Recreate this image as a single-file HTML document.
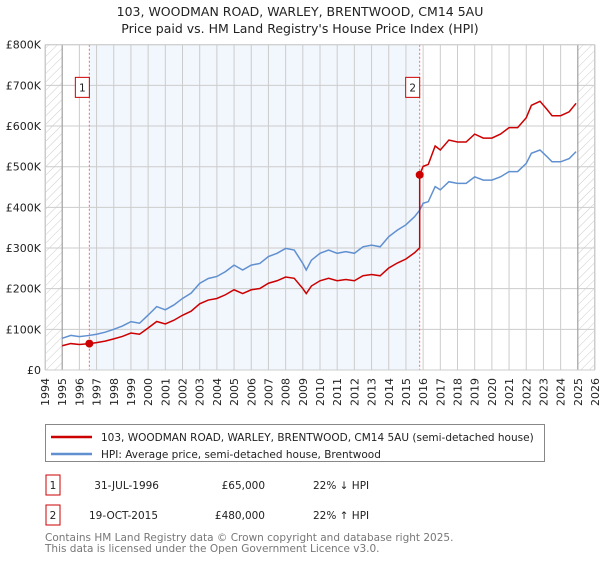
<!DOCTYPE html>
<html><head><meta charset="utf-8"><style>
body{margin:0;background:#fff;width:600px;height:560px;overflow:hidden;font-family:"Liberation Sans","DejaVu Sans",sans-serif}
svg text{font-family:"DejaVu Sans","Liberation Sans",sans-serif}
</style></head><body>
<svg id="c" width="600" height="560" xmlns="http://www.w3.org/2000/svg">
<defs><pattern id="hatch" width="6" height="6" patternUnits="userSpaceOnUse" patternTransform="rotate(45)"><line x1="0" y1="0" x2="0" y2="6" stroke="#ccc" stroke-width="1"/></pattern></defs>
<text x="300" y="16" text-anchor="middle" font-size="12.5" fill="#222">103, WOODMAN ROAD, WARLEY, BRENTWOOD, CM14 5AU</text>
<text x="300" y="33" text-anchor="middle" font-size="12.5" fill="#222">Price paid vs. HM Land Registry's House Price Index (HPI)</text>
<g id="plot"></g>
<g>
<rect x="45.5" y="424.5" width="499" height="37" fill="#fff" stroke="#888"/>
<line x1="51" y1="437" x2="92" y2="437" stroke="#cc0000" stroke-width="2.5"/>
<text x="101" y="441" font-size="10.5" fill="#222">103, WOODMAN ROAD, WARLEY, BRENTWOOD, CM14 5AU (semi-detached house)</text>
<line x1="51" y1="454" x2="92" y2="454" stroke="#6090d0" stroke-width="2.5"/>
<text x="101" y="458" font-size="10.5" fill="#222">HPI: Average price, semi-detached house, Brentwood</text>
</g>
<g font-size="10.5" fill="#222">
<rect x="46" y="475" width="14" height="20" fill="none" stroke="#cc0000"/><text x="53" y="489" text-anchor="middle">1</text>
<text x="159" y="489" text-anchor="end">31-JUL-1996</text><text x="265" y="489" text-anchor="end">£65,000</text><text x="313" y="489">22% ↓ HPI</text>
<rect x="46" y="505" width="14" height="20" fill="none" stroke="#cc0000"/><text x="53" y="519" text-anchor="middle">2</text>
<text x="158" y="519" text-anchor="end">19-OCT-2015</text><text x="265" y="519" text-anchor="end">£480,000</text><text x="313" y="519">22% ↑ HPI</text>
</g>
<text x="45" y="541" font-size="10.5" fill="#777">Contains HM Land Registry data © Crown copyright and database right 2025.</text>
<text x="45" y="552" font-size="10.5" fill="#777">This data is licensed under the Open Government Licence v3.0.</text>
</svg>
<script>
const hpiYears=[1995,1995.5,1996,1996.58,1997,1997.5,1998,1998.5,1999,1999.5,2000,2000.5,2001,2001.5,2002,2002.5,2003,2003.5,2004,2004.5,2005,2005.5,2006,2006.5,2007,2007.5,2008,2008.5,2009,2009.2,2009.5,2010,2010.5,2011,2011.5,2012,2012.5,2013,2013.5,2014,2014.5,2015,2015.5,2015.8,2016,2016.3,2016.7,2017,2017.5,2018,2018.5,2019,2019.5,2020,2020.5,2021,2021.5,2022,2022.3,2022.8,2023.2,2023.5,2024,2024.5,2024.9];
const hpiValues=[78,85,82,85,88,93,100,108,119,115,135,156,148,160,176,189,213,225,230,242,258,246,258,262,279,287,299,295,262,246,270,287,295,287,291,287,303,307,303,328,344,357,377,393,410,414,451,443,463,459,459,475,467,467,475,488,488,508,533,541,525,512,512,520,537];
const saleYears=[1996.58,2015.8];
const salePrices=[65,480];
const yTicks=[0,100,200,300,400,500,600,700,800];
const yTickLabels=["£0","£100K","£200K","£300K","£400K","£500K","£600K","£700K","£800K"];
const xYears=[1994,1995,1996,1997,1998,1999,2000,2001,2002,2003,2004,2005,2006,2007,2008,2009,2010,2011,2012,2013,2014,2015,2016,2017,2018,2019,2020,2021,2022,2023,2024,2025,2026];
const L=45,R=595,T=44.7,B=370;
const x=v=>L+(v-1994)/32*(R-L);
const y=v=>B-v/800*(B-T);
const NS="http://www.w3.org/2000/svg";
const g=document.getElementById('plot');
function mk(t,a){const e=document.createElementNS(NS,t);for(const k in a)e.setAttribute(k,a[k]);g.appendChild(e);return e;}
let e;
e=mk('rect',{x:L,y:T,width:R-L,height:B-T,fill:'#fff'});


e=mk('rect',{x:x(saleYears[0]),y:T,width:x(saleYears[1])-x(saleYears[0]),height:B-T,fill:'#f2f6fd'});


e=mk('rect',{x:L,y:T,width:x(1995)-L,height:B-T,fill:'url(#hatch)'});


e=mk('rect',{x:x(2025),y:T,width:R-x(2025),height:B-T,fill:'url(#hatch)'});


xYears.forEach(yr=>{
 e=mk('line',{x1:x(yr),x2:x(yr),y1:T,y2:B,stroke:'#ccc','stroke-width':1});
 
 
 e=mk('text',{x:0,y:0,transform:`translate(${x(yr)+4},${B+8}) rotate(-90)`,'text-anchor':'end','font-size':11,fill:'#222'});
 e.textContent=yr;
 
 
});
yTicks.forEach((v,i)=>{
 e=mk('line',{x1:L,x2:R,y1:y(v),y2:y(v),stroke:'#ccc','stroke-width':1});
 
 
 e=mk('text',{x:L-4,y:y(v)+4,'text-anchor':'end','font-size':11,fill:'#222'});
 e.textContent=yTickLabels[i];
 
 
});
e=mk('line',{x1:x(1995),x2:x(1995),y1:T,y2:B,stroke:'#999','stroke-width':1});


e=mk('line',{x1:x(2025),x2:x(2025),y1:T,y2:B,stroke:'#999','stroke-width':1});


saleYears.forEach((s,i)=>{
 e=mk('line',{x1:x(s),x2:x(s),y1:T,y2:B,stroke:'#f66','stroke-width':1,'stroke-dasharray':'2,2'});
 
 
});
// HPI line
e=mk('polyline',{points:hpiYears.map((yr,i)=>x(yr)+','+y(hpiValues[i])).join(' '),fill:'none',stroke:'#6090d0','stroke-width':1.5});


// property line: scaled HPI from each sale
function hpiAt(t){for(let i=1;i<hpiYears.length;i++){if(t<=hpiYears[i]){const f=(t-hpiYears[i-1])/(hpiYears[i]-hpiYears[i-1]);return hpiValues[i-1]+f*(hpiValues[i]-hpiValues[i-1]);}}return hpiValues[hpiValues.length-1];}
const r1=salePrices[0]/hpiAt(saleYears[0]),r2=salePrices[1]/hpiAt(saleYears[1]);
const pts=[];
hpiYears.forEach((yr,i)=>{if(yr<saleYears[1])pts.push([yr,hpiValues[i]*r1]);});
pts.push([saleYears[1],hpiAt(saleYears[1])*r1]);
pts.push([saleYears[1],salePrices[1]]);
hpiYears.forEach((yr,i)=>{if(yr>saleYears[1])pts.push([yr,hpiValues[i]*r2]);});
e=mk('polyline',{points:pts.map(p=>x(p[0])+','+y(p[1])).join(' '),fill:'none',stroke:'#cc0000','stroke-width':1.5});


saleYears.forEach((s,i)=>{
 e=mk('circle',{cx:x(s),cy:y(salePrices[i]),r:4,fill:'#cc0000'});
 
 
 e=mk('rect',{x:x(s)-14,y:y(700)-8,width:14,height:20,fill:'#fff',stroke:'#cc0000'});
 
 
 e=mk('text',{x:x(s)-7,y:y(700)+6,'text-anchor':'middle','font-size':10.5,fill:'#222'});
 e.textContent=String(i+1);
 
 
});
e=mk('rect',{x:L+0.5,y:T,width:R-L-1,height:B-T,fill:'none',stroke:'#ccc'});


</script>
</body></html>
